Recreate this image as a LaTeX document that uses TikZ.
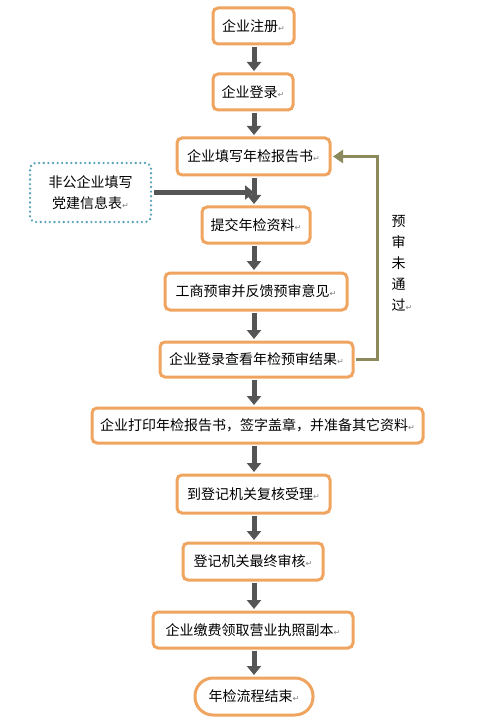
\documentclass[tikz,border=0pt]{standalone}
\usepackage{fontspec}
\setmainfont{Noto Sans CJK SC}
\newfontfamily\symfont{DejaVu Sans}
\usetikzlibrary{arrows.meta}
\definecolor{boxorange}{HTML}{EFA560}
\definecolor{arrowgray}{HTML}{555555}
\definecolor{olive}{HTML}{8C8A5C}
\definecolor{dotteal}{HTML}{5AA3BA}
\newcommand{\parmark}{{\symfont\fontsize{8pt}{8pt}\selectfont\color{gray}↵}}
\tikzset{
  flowbox/.style={draw=boxorange, line width=3pt, rounded corners=5pt, fill=white,
    inner sep=0pt, align=center, font=\fontsize{14pt}{17pt}\selectfont},
  endbox/.style={flowbox, rounded corners=18pt},
  notebox/.style={draw=dotteal, line width=2.5pt, dash pattern=on 0.1pt off 4.5pt, line cap=round,
    rounded corners=6pt, inner sep=0pt, align=center, font=\fontsize{14pt}{21pt}\selectfont},
  bigarrow/.style={draw=arrowgray, line width=5pt, -{Triangle[width=14pt,length=9pt]}},
  fbarrow/.style={draw=olive, line width=3pt, -{Triangle[width=13pt,length=10pt]}},
}
\begin{document}
\begin{tikzpicture}[x=1pt,y=-1pt]
\useasboundingbox (0,0) rectangle (482,727);
\node[flowbox, minimum width=81pt, minimum height=36pt] (b1) at (253.5,26) {企业注册\parmark};
\node[flowbox, minimum width=80pt, minimum height=36pt] (b2) at (253,92) {企业登录\parmark};
\node[flowbox, minimum width=153pt, minimum height=37pt] (b3) at (253.5,156.5) {企业填写年检报告书\parmark};
\node[notebox, minimum width=121pt, minimum height=59pt] (note) at (90.5,192.5) {非公企业填写\\党建信息表\parmark};
\node[flowbox, minimum width=108pt, minimum height=36pt] (b4) at (256,225) {提交年检资料\parmark};
\node[flowbox, minimum width=182pt, minimum height=37pt] (b5) at (256,291.5) {工商预审并反馈预审意见\parmark};
\node[flowbox, minimum width=193pt, minimum height=35pt] (b6) at (256.5,359.5) {企业登录查看年检预审结果\parmark};
\node[flowbox, minimum width=331pt, minimum height=35pt] (b7) at (257.5,425.5) {企业打印年检报告书，签字盖章，并准备其它资料\parmark};
\node[flowbox, minimum width=153pt, minimum height=38pt] (b8) at (253.5,494) {到登记机关复核受理\parmark};
\node[flowbox, minimum width=140pt, minimum height=37pt] (b9) at (253,561.5) {登记机关最终审核\parmark};
\node[flowbox, minimum width=200pt, minimum height=36pt] (b10) at (253,630) {企业缴费领取营业执照副本\parmark};
\node[endbox, minimum width=118pt, minimum height=37pt] (b11) at (254,696.5) {年检流程结束\parmark};
\coordinate (col) at (254,0);
\coordinate (join) at (254,192.5);
\coordinate (fbx) at (377,156.5);
\foreach \a/\b in {b1/b2,b2/b3,b3/b4,b4/b5,b5/b6,b6/b7,b7/b8,b8/b9,b9/b10,b10/b11}
  \draw[bigarrow] ([yshift=-1.5pt]\a.south -| col) -- ([yshift=1.5pt]\b.north -| col);
\draw[bigarrow] ([xshift=1.5pt]note.east) -- (join);
\draw[fbarrow] ([xshift=1.5pt]b6.east) -| (fbx) -- ([xshift=1.5pt]b3.east);
\node[font=\fontsize{14pt}{21pt}\selectfont, align=left, anchor=north west] (lbl) at (388,212) {预\\审\\未\\通\\过\parmark};
\end{tikzpicture}
\end{document}
